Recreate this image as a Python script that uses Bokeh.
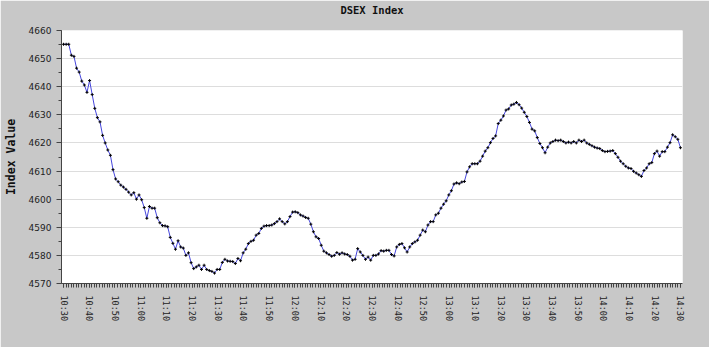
import numpy as np
from bokeh.plotting import figure
from bokeh.models import FixedTicker, Range1d, ColumnDataSource, LinearAxis
from bokeh.embed import file_html
from bokeh.resources import INLINE

title_text = "DSEX Index"
y_label = "Index Value"

index_values = [
    4655.1, 4655.1, 4655.1, 4651.2, 4650.8, 4646.6, 4645.2, 4642.0, 4640.6, 4638.0,
    4642.2, 4637.2, 4632.3, 4629.0, 4627.5, 4622.7, 4620.0, 4617.5, 4615.6, 4610.5,
    4607.2, 4606.2, 4605.0, 4604.3, 4603.5, 4602.5, 4601.5, 4602.3, 4600.0, 4601.5,
    4599.8, 4597.0, 4593.2, 4597.4, 4596.8, 4596.8, 4593.4, 4591.6, 4590.6, 4590.5,
    4590.2, 4586.4, 4584.3, 4582.2, 4585.2, 4583.0, 4582.6, 4580.0, 4580.9, 4577.4,
    4575.3, 4575.9, 4576.5, 4575.0, 4576.5, 4575.0, 4574.6, 4574.3, 4573.7, 4575.0,
    4575.0, 4577.5, 4578.6, 4578.0, 4577.9, 4577.8, 4577.1, 4578.9, 4578.1, 4580.9,
    4582.2, 4584.2, 4585.0, 4585.4, 4587.2, 4587.8, 4589.6, 4590.4, 4590.6, 4590.6,
    4590.8, 4591.3, 4592.0, 4593.0, 4592.0, 4591.2, 4592.0, 4593.8, 4595.4, 4595.5,
    4595.2, 4594.4, 4594.0, 4593.5, 4593.2, 4591.1, 4588.4, 4586.6, 4586.0, 4583.6,
    4581.5, 4580.9, 4580.3, 4579.7, 4580.0, 4581.0, 4580.4, 4580.9, 4580.5, 4580.3,
    4579.7, 4578.3, 4578.6, 4582.4, 4581.2, 4580.0, 4578.6, 4579.4, 4578.3, 4580.0,
    4580.0, 4580.5, 4581.7, 4581.5, 4581.8, 4581.8, 4580.3, 4579.8, 4583.0, 4583.9,
    4584.2, 4582.7, 4581.2, 4583.0, 4584.2, 4584.8, 4585.4, 4587.2, 4589.0, 4588.4,
    4590.8, 4592.0, 4592.0, 4594.4, 4595.0, 4596.8, 4598.2, 4599.4, 4601.5, 4603.0,
    4605.4, 4605.8, 4605.5, 4606.1, 4606.3, 4609.7, 4611.5, 4612.6, 4612.6, 4612.6,
    4613.5, 4615.3, 4617.1, 4618.3, 4620.1, 4621.6, 4622.5, 4626.9, 4628.1, 4629.6,
    4631.7, 4632.1, 4633.5, 4633.8, 4634.4, 4633.6, 4632.4, 4630.9, 4629.4, 4627.3,
    4624.9, 4624.3, 4621.9, 4619.8, 4618.3, 4616.5, 4618.5, 4620.0, 4620.5, 4621.0,
    4620.8, 4621.0, 4620.5, 4620.0, 4620.3, 4620.0, 4620.5, 4620.0, 4621.0, 4620.5,
    4621.0, 4620.0, 4619.5, 4619.0, 4618.5, 4618.2, 4618.0, 4617.3, 4616.9, 4617.0,
    4617.1, 4617.3, 4616.2, 4614.9, 4613.5, 4612.6, 4611.7, 4611.1, 4610.9, 4609.9,
    4609.3, 4608.7, 4608.1, 4610.2, 4611.1, 4612.6, 4613.0, 4616.2, 4617.1, 4615.3,
    4616.9, 4616.9, 4618.5, 4620.1, 4622.9, 4622.2, 4621.3, 4618.3,
]

tick_labels = ["10:30", "10:40", "10:50", "11:00", "11:10", "11:20", "11:30", "11:40",
               "11:50", "12:00", "12:10", "12:20", "12:30", "12:40", "12:50", "13:00",
               "13:10", "13:20", "13:30", "13:40", "13:50", "14:00", "14:10", "14:20",
               "14:30"]
tick_minutes = [0, 10, 20, 30, 40, 50, 60, 70, 80, 90, 100, 110, 120, 130, 140, 150,
                160, 170, 180, 190, 200, 210, 220, 230, 240]
y_ticks = [4570, 4580, 4590, 4600, 4610, 4620, 4630, 4640, 4650, 4660]

# evenly spaced sampling over the session (10:30 -> 14:30)
minutes = np.linspace(tick_minutes[0], tick_minutes[-1], len(index_values))
src = ColumnDataSource(dict(x=minutes, y=index_values))

BG = "#C8C8C8"

p = figure(width=709, height=347, output_backend="svg", toolbar_location=None,
           x_range=Range1d(-0.8, 240.8), y_range=Range1d(4570, 4660),
           min_border_left=47, min_border_right=27, min_border_top=29,
           min_border_bottom=64)

p.title.visible = False

# chart title drawn as the label of a bare axis above the frame
top_axis = LinearAxis(ticker=FixedTicker(ticks=[]), axis_label=title_text,
                      axis_line_color=None, major_tick_line_color=None,
                      minor_tick_line_color=None, major_tick_out=0, minor_tick_out=0,
                      major_tick_in=0, minor_tick_in=0, major_label_standoff=0,
                      major_label_text_font_size="0px",
                      axis_label_standoff=15,
                      axis_label_text_font="DejaVu Sans Mono",
                      axis_label_text_font_size="10.5px",
                      axis_label_text_font_style="bold",
                      axis_label_text_color="#111111")
p.add_layout(top_axis, "above")

p.background_fill_color = "white"
p.border_fill_color = BG
p.outline_line_color = None

p.line("x", "y", source=src, line_color="#4646DC", line_width=1)
p.scatter("x", "y", source=src, marker="cross", size=3, line_color="black", line_width=1)

# y axis
p.yaxis.ticker = FixedTicker(ticks=y_ticks,
                             minor_ticks=list(np.arange(y_ticks[0], y_ticks[-1] + 1, 5)))
p.yaxis.axis_label = y_label
p.yaxis.axis_label_text_font = "DejaVu Sans Mono"
p.yaxis.axis_label_text_font_style = "bold"
p.yaxis.axis_label_text_font_size = "11.5px"
p.yaxis.axis_label_text_color = "#111111"
p.yaxis.axis_label_standoff = 8
p.yaxis.major_label_text_font = "DejaVu Sans"
p.yaxis.major_label_text_font_size = "9px"
p.yaxis.major_label_text_color = "#222222"
p.yaxis.major_tick_in = 0
p.yaxis.major_tick_out = 5
p.yaxis.minor_tick_in = 0
p.yaxis.minor_tick_out = 3
p.yaxis.axis_line_color = "#444444"
p.yaxis.major_tick_line_color = "#444444"
p.yaxis.minor_tick_line_color = "#444444"

# x axis (bottom)
xa = p.below[0]
xa.ticker = FixedTicker(ticks=tick_minutes,
                        minor_ticks=list(range(tick_minutes[0], tick_minutes[-1] + 1)))
xa.major_label_overrides = {m: l for m, l in zip(tick_minutes, tick_labels)}
xa.major_label_orientation = "vertical"
xa.major_label_standoff = 8
xa.major_label_text_font = "DejaVu Sans Mono"
xa.major_label_text_font_size = "8.5px"
xa.major_label_text_color = "#222222"
xa.major_tick_in = 0
xa.major_tick_out = 4
xa.minor_tick_in = 0
xa.minor_tick_out = 4
xa.axis_line_color = "#444444"
xa.major_tick_line_color = "#444444"
xa.minor_tick_line_color = "#444444"

p.xgrid.visible = False
p.ygrid.ticker = FixedTicker(ticks=y_ticks)
p.ygrid.grid_line_color = "#DDDDDD"

open("out.html", "w").write(file_html(p, INLINE))
